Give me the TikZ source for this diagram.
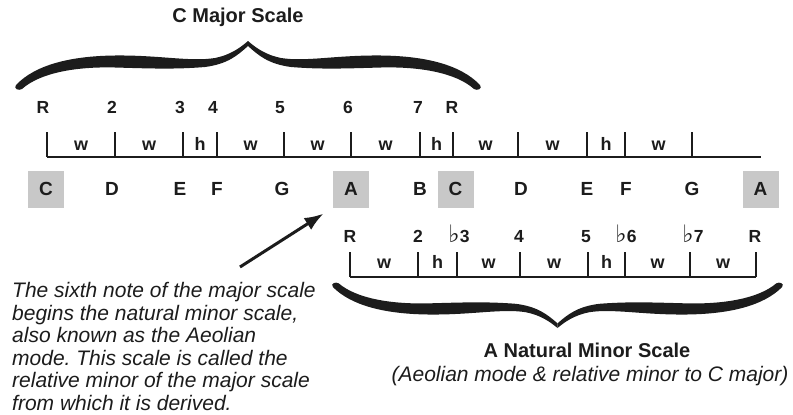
\documentclass[tikz,border=0pt]{standalone}
\usepackage{fontspec}
\setmainfont{Liberation Sans}
\newfontfamily\dejavu{DejaVu Sans}
\usetikzlibrary{arrows.meta,calc}
\definecolor{ink}{RGB}{28,28,28}
\definecolor{boxgrey}{RGB}{200,200,200}
\newcommand{\flatsign}{{\dejavu\bfseries\fontsize{24}{24}\selectfont ♭}}
\frenchspacing
\begin{document}
\begin{tikzpicture}[x=1pt,y=-1pt,
  deg/.style={font=\bfseries\fontsize{17.5}{17.5}\selectfont, text=ink, inner sep=0pt, anchor=base},
  ivl/.style={font=\bfseries\fontsize{18}{18}\selectfont, text=ink, inner sep=0pt, anchor=base},
  note/.style={font=\bfseries\fontsize{19}{19}\selectfont, text=ink, minimum width=36pt, minimum height=37pt, inner sep=0pt},
  hl/.style={note, fill=boxgrey},
  title/.style={font=\bfseries\fontsize{20}{20}\selectfont, text=ink, inner sep=0pt, anchor=base},
  subtitle/.style={font=\itshape\fontsize{21}{21}\selectfont, text=ink, inner sep=0pt, anchor=base},
  para/.style={font=\itshape\fontsize{21}{22.5}\selectfont, text=ink, inner sep=0pt, align=left},
  scaleline/.style={draw=ink, line width=2pt},
  pointer/.style={draw=ink, line width=3pt, -{Latex[length=19pt,width=14pt]}, shorten >=11pt},
  mybrace/.pic={
    \fill[ink] (-232,44) .. controls (-213,24) and (-178,15) .. (-133,14.5)
      .. controls (-88,14) and (-58,21) .. (-33,17)
      .. controls (-18,14) and (-8,7) .. (0,0) -- (0,5)
      .. controls (-10,14) and (-20,23) .. (-43,26)
      .. controls (-73,28.5) and (-98,27.5) .. (-133,26.5)
      .. controls (-173,25.5) and (-208,32) .. (-226,48)
      .. controls (-229,50) and (-235,48) .. (-232,44) -- cycle;
    \fill[ink] (232,44) .. controls (213,24) and (178,15) .. (133,14.5)
      .. controls (88,14) and (58,21) .. (33,17)
      .. controls (18,14) and (8,7) .. (0,0) -- (0,5)
      .. controls (10,14) and (20,23) .. (43,26)
      .. controls (73,28.5) and (98,27.5) .. (133,26.5)
      .. controls (173,25.5) and (208,32) .. (226,48)
      .. controls (229,50) and (235,48) .. (232,44) -- cycle;
  }
]
\useasboundingbox (0,0) rectangle (793,415);

% ---------- C major scale ----------
\node[title] (tmaj) at (238,22.5) {C Major Scale};
\pic at (248,41) {mybrace};

\foreach \x/\t [count=\i] in {43/R,112/2,180/3,213/4,280/5,348/6,418/7,452/R}
  \node[deg] (d\i) at (\x,113) {\t};

\draw[scaleline] (47,157) -- (761,157);
\foreach \x in {47,115,183,217,284,351,420,453,518,587,625,692}
  \draw[scaleline] (\x,132) -- (\x,157);

\foreach \x/\t [count=\i] in {81/w,149/w,200/h,250.5/w,317.5/w,385.5/w,436.5/h,485.5/w,552.5/w,606/h,658.5/w}
  \node[ivl] (i\i) at (\x,150) {\t};

% ---------- note names ----------
\node[hl]   (n1)  at (46,189)  {C};
\node[note] (n2)  at (112,189) {D};
\node[note] (n3)  at (180,189) {E};
\node[note] (n4)  at (217,189) {F};
\node[note] (n5)  at (282,189) {G};
\node[hl]   (n6)  at (351,189) {A};
\node[note] (n7)  at (420,189) {B};
\node[hl]   (n8)  at (455.5,189) {C};
\node[note] (n9)  at (521,189) {D};
\node[note] (n10) at (587,189) {E};
\node[note] (n11) at (626,189) {F};
\node[note] (n12) at (692,189) {G};
\node[hl]   (n13) at (760.5,189) {A};

% ---------- A natural minor ----------
\node[deg] (m1) at (350,242.5) {R};
\node[deg] (m2) at (418,242.5) {2};
\node[deg] (m3) at (459,242.5) {\flatsign3};
\node[deg] (m4) at (519,242.5) {4};
\node[deg] (m5) at (586,242.5) {5};
\node[deg] (m6) at (626,242.5) {\flatsign6};
\node[deg] (m7) at (693,242.5) {\flatsign7};
\node[deg] (m8) at (755,242.5) {R};

\draw[scaleline] (350,277) -- (756,277);
\foreach \x in {350,418,457,520,588,625,690,756}
  \draw[scaleline] (\x,252) -- (\x,277);

\foreach \x/\t [count=\i] in {384/w,437.5/h,488.5/w,554/w,606.5/h,657.5/w,723/w}
  \node[ivl] (j\i) at (\x,268) {\t};

\pic[yscale=-0.93,xscale=0.968] at (557.5,328) {mybrace};

\node[title] (tmin) at (587,357) {A Natural Minor Scale};
\node[subtitle] (tsub) at (590,381) {(Aeolian mode \& relative minor to C major)};

% ---------- explanation ----------
\node[para, anchor=north west] (expl) at (12,282.5) {The sixth note of the major scale\\begins the natural minor scale,\\also known as the Aeolian\\mode. This scale is called the\\relative minor of the major scale\\from which it is derived.};

\coordinate (tail) at (240,267);
\draw[pointer] (tail) -- (n6.south west);
\end{tikzpicture}
\end{document}
